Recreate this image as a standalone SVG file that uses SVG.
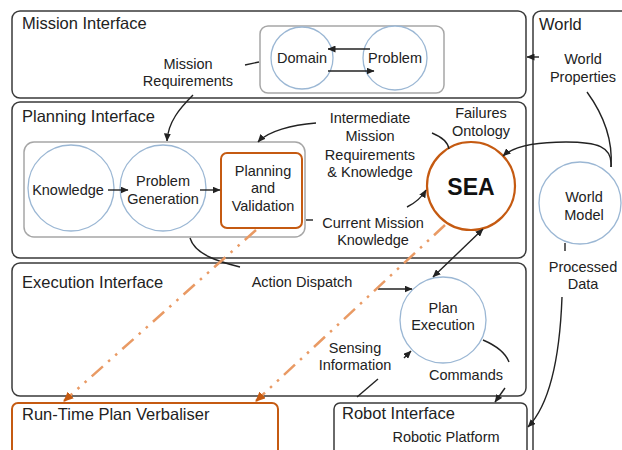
<svg xmlns="http://www.w3.org/2000/svg" width="622" height="450" viewBox="0 0 622 450">
  <style>
    .box { fill: #ffffff; stroke: #3a3a3a; stroke-width: 1.5; }
    .group { fill: none; stroke: #a6a6a6; stroke-width: 1.5; }
    .obox { fill: #ffffff; stroke: #c55a11; stroke-width: 2; }
    .node { fill: #ffffff; stroke: #9bb7d4; stroke-width: 1.3; }
    .sea { fill: #ffffff; stroke: #c55a11; stroke-width: 2.2; }
    .title { font-family: "Liberation Sans", Arial, sans-serif; font-size: 16.5px; fill: #222; }
    .lbl { font-family: "Liberation Sans", Arial, sans-serif; font-size: 14.5px; fill: #222; text-anchor: middle; }
    .big { font-family: "Liberation Sans", Arial, sans-serif; font-size: 23px; font-weight: bold; fill: #111; text-anchor: middle; }
    .wire { fill: none; stroke: #222; stroke-width: 1.4; }
    .arr { marker-end: url(#ah); }
    .dd { fill: none; stroke: #e99a64; stroke-width: 2.5; stroke-dasharray: 15 7 2.5 7 2.5 7; marker-end: url(#oh); }
  </style>
  <defs>
    <marker id="ah" markerUnits="userSpaceOnUse" markerWidth="8" markerHeight="7" refX="7.5" refY="3.5" orient="auto">
      <path d="M0,0 L8,3.5 L0,7 z" fill="#222"/>
    </marker>
    <marker id="ahs" markerUnits="userSpaceOnUse" markerWidth="8" markerHeight="7" refX="0.5" refY="3.5" orient="auto">
      <path d="M8,0 L0,3.5 L8,7 z" fill="#222"/>
    </marker>
    <marker id="oh" markerUnits="userSpaceOnUse" markerWidth="10" markerHeight="9" refX="9" refY="4.5" orient="auto">
      <path d="M0,0 L10,4.5 L0,9 z" fill="#c55a11"/>
    </marker>
  </defs>

  <!-- layer containers -->
  <g id="world">
    <rect class="box" x="533" y="11" width="110" height="460" rx="8"/>
    <text class="title" x="539" y="30">World</text>
  </g>
  <g id="mission-interface">
    <rect class="box" x="12" y="11" width="514" height="87" rx="8"/>
    <text class="title" x="22" y="29">Mission Interface</text>
    <rect class="group" x="260" y="26" width="184" height="67" rx="8"/>
  </g>
  <g id="planning-interface">
    <rect class="box" x="12" y="102" width="514" height="156" rx="8"/>
    <text class="title" x="22" y="122">Planning Interface</text>
    <rect class="group" x="24" y="142" width="281" height="95" rx="10"/>
  </g>
  <g id="execution-interface">
    <rect class="box" x="12" y="263" width="514" height="133" rx="8"/>
    <text class="title" x="22" y="288">Execution Interface</text>
  </g>
  <g id="run-time-plan-verbaliser">
    <rect class="obox" x="12" y="403" width="266" height="70" rx="6"/>
    <text class="title" x="22" y="420">Run-Time Plan Verbaliser</text>
  </g>
  <g id="robot-interface">
    <rect class="box" x="334" y="403" width="193" height="70" rx="6"/>
    <text class="title" x="342" y="419">Robot Interface</text>
    <text class="lbl" x="446" y="442">Robotic Platform</text>
  </g>

  <!-- nodes -->
  <g id="domain">
    <circle class="node" cx="302" cy="58" r="31"/>
    <text class="lbl" x="302" y="63">Domain</text>
  </g>
  <g id="problem">
    <circle class="node" cx="395" cy="58" r="32"/>
    <text class="lbl" x="395" y="63">Problem</text>
  </g>
  <g id="knowledge">
    <circle class="node" cx="71" cy="188" r="43"/>
    <text class="lbl" x="68" y="195">Knowledge</text>
  </g>
  <g id="problem-generation">
    <circle class="node" cx="163" cy="188" r="43"/>
    <text class="lbl" x="163" y="186">Problem</text>
    <text class="lbl" x="163" y="204">Generation</text>
  </g>
  <g id="planning-and-validation">
    <rect class="obox" x="221" y="153" width="81" height="75" rx="6"/>
    <text class="lbl" x="263" y="176">Planning</text>
    <text class="lbl" x="263" y="193">and</text>
    <text class="lbl" x="263" y="211">Validation</text>
  </g>
  <g id="sea">
    <circle class="sea" cx="471" cy="186" r="44"/>
    <text class="big" x="471" y="195">SEA</text>
  </g>
  <g id="world-model">
    <circle class="node" cx="580" cy="203" r="41"/>
    <text class="lbl" x="584" y="202">World</text>
    <text class="lbl" x="584" y="220">Model</text>
  </g>
  <g id="plan-execution">
    <circle class="node" cx="443" cy="320" r="43"/>
    <text class="lbl" x="443" y="313">Plan</text>
    <text class="lbl" x="443" y="330">Execution</text>
  </g>

  <!-- connector labels -->
  <g id="labels">
    <text class="lbl" x="188" y="69">Mission</text>
    <text class="lbl" x="188" y="86">Requirements</text>
    <text class="lbl" x="583" y="64">World</text>
    <text class="lbl" x="583" y="82">Properties</text>
    <text class="lbl" x="370" y="123">Intermediate</text>
    <text class="lbl" x="370" y="141">Mission</text>
    <text class="lbl" x="370" y="160">Requirements</text>
    <text class="lbl" x="370" y="177">&amp; Knowledge</text>
    <text class="lbl" x="481" y="118">Failures</text>
    <text class="lbl" x="481" y="136">Ontology</text>
    <text class="lbl" x="373" y="228">Current Mission</text>
    <text class="lbl" x="373" y="245">Knowledge</text>
    <text class="lbl" x="583" y="272">Processed</text>
    <text class="lbl" x="583" y="289">Data</text>
    <text class="lbl" x="302" y="287">Action Dispatch</text>
    <text class="lbl" x="355" y="353">Sensing</text>
    <text class="lbl" x="355" y="370">Information</text>
    <text class="lbl" x="466" y="380">Commands</text>
  </g>

  <!-- connectors -->
  <g id="connectors">
    <path class="wire" d="M245,65 L259,62"/>
    <path class="wire arr" d="M193,95 C180,108 168,122 167,141"/>
    <path class="wire arr" d="M370,49 L328,49"/>
    <path class="wire arr" d="M328,71 L374,71"/>
    <path class="wire arr" d="M539,57 L527,57"/>
    <path class="wire" d="M587,92 C603,114 613,140 611,167"/>
    <path class="wire arr" d="M611,167 C613,146 596,142 566,142 C536,142 514,146 503,156"/>
    <path class="wire" d="M565,243 L565,251"/>
    <path class="wire arr" d="M562,297 C560,352 552,402 528,427"/>
    <path class="wire arr" d="M316,123 C292,125 268,131 258,142"/>
    <path class="wire" d="M432,133 C442,137 448,143 449,149"/>
    <path class="wire arr" d="M407,207 C415,203 422,197 426,190"/>
    <path class="wire" d="M306,220 L313,220"/>
    <path class="wire arr" d="M108,190 L128,190"/>
    <path class="wire arr" d="M200,190 L220,190"/>
    <path class="wire" d="M190,238 C195,255 220,262 240,267"/>
    <path class="wire arr" d="M378,289 L412,289"/>
    <path class="wire arr" d="M483,229 L433,277" marker-start="url(#ahs)"/>
    <path class="wire arr" d="M404,358 L411,351"/>
    <path class="wire" d="M378,379 L357,397"/>
    <path class="wire" d="M483,340 C497,346 506,354 509,362"/>
    <path class="wire arr" d="M505,388 L495,402"/>
    <path class="dd" d="M256,230 L64,401"/>
    <path class="dd" d="M445,225 L256,401"/>
  </g>
</svg>
